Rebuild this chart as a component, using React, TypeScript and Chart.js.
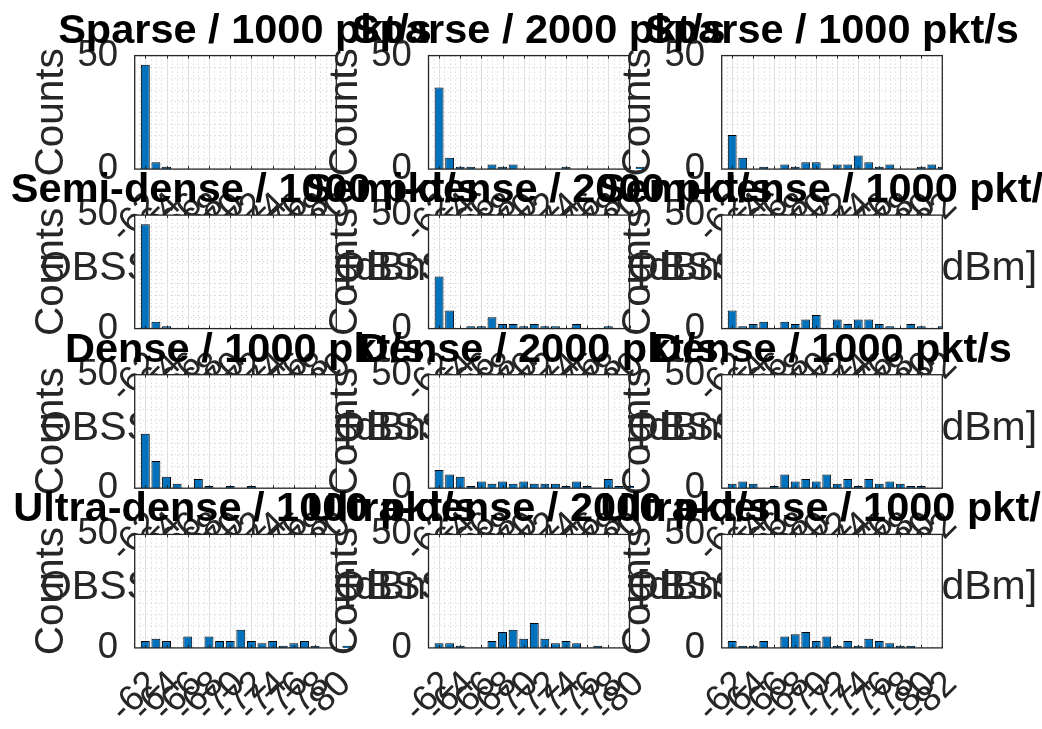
import React, { useEffect, useRef } from 'react';
import { Chart, registerables } from 'chart.js';

Chart.register(...registerables);

// ---------- data ----------
const BINS = [-62, -63, -64, -65, -66, -67, -68, -69, -70, -71, -72, -73, -74, -75, -76, -77, -78, -79, -80, -81, -82];
const X_TICKS_NARROW = [-62, -64, -66, -68, -70, -72, -74, -76, -78, -80];
const X_TICKS_WIDE = [-62, -64, -66, -68, -70, -72, -74, -76, -78, -80, -82];
const Y_TICKS = [0, 50];

const SPARSE_1000_A = [46, 3, 1, 0, 0, 0, 0, 0, 0, 0, 0, 0, 0, 0, 0, 0, 0, 0, 0, 0, 0];
const SPARSE_2000 = [36, 5, 1, 1, 0, 2, 1, 2, 0, 0, 0, 0, 1, 0, 0, 0, 0, 0, 0, 1, 0];
const SPARSE_1000_B = [15, 5, 0, 1, 0, 2, 1, 3, 3, 0, 2, 2, 6, 3, 1, 2, 0, 0, 1, 2, 1];
const SEMI_1000_A = [46, 3, 1, 0, 0, 0, 0, 0, 0, 0, 0, 0, 0, 0, 0, 0, 0, 0, 0, 0, 0];
const SEMI_2000 = [23, 8, 0, 1, 1, 5, 2, 2, 1, 2, 1, 1, 0, 2, 0, 0, 1, 0, 0, 0, 0];
const SEMI_1000_B = [8, 1, 2, 3, 0, 3, 2, 4, 6, 0, 4, 2, 4, 4, 2, 1, 0, 2, 1, 0, 1];
const DENSE_1000_A = [24, 12, 5, 2, 0, 4, 1, 0, 1, 0, 1, 0, 0, 0, 0, 0, 0, 0, 0, 0, 0];
const DENSE_2000 = [8, 6, 5, 1, 3, 2, 3, 2, 3, 2, 2, 2, 1, 3, 1, 0, 4, 1, 1, 0, 0];
const DENSE_1000_B = [2, 3, 2, 0, 1, 6, 3, 4, 3, 6, 2, 4, 1, 4, 2, 3, 2, 1, 1, 0, 0];
const ULTRA_1000_A = [3, 4, 3, 0, 5, 0, 5, 3, 3, 8, 3, 2, 3, 1, 2, 3, 1, 0, 0, 1, 0];
const ULTRA_2000 = [2, 2, 1, 0, 0, 3, 7, 8, 4, 11, 4, 2, 3, 2, 0, 1, 0, 0, 0, 0, 0];
const ULTRA_1000_B = [3, 1, 1, 3, 0, 5, 6, 7, 3, 5, 1, 3, 1, 4, 3, 2, 1, 1, 0, 0, 0];

const PANEL_COUNTS = [
  SPARSE_1000_A, SPARSE_2000, SPARSE_1000_B,
  SEMI_1000_A, SEMI_2000, SEMI_1000_B,
  DENSE_1000_A, DENSE_2000, DENSE_1000_B,
  ULTRA_1000_A, ULTRA_2000, ULTRA_1000_B,
];

const TITLES = [
  'Sparse / 1000 pkt/s', 'Sparse / 2000 pkt/s', 'Sparse / 1000 pkt/s',
  'Semi-dense / 1000 pkt/s', 'Semi-dense / 2000 pkt/s', 'Semi-dense / 1000 pkt/s',
  'Dense / 1000 pkt/s', 'Dense / 2000 pkt/s', 'Dense / 1000 pkt/s',
  'Ultra-dense / 1000 pkt/s', 'Ultra-dense / 2000 pkt/s', 'Ultra-dense / 1000 pkt/s',
];
const X_LABEL = 'OBSS/PD value [dBm]';
const Y_LABEL = 'Counts';

// ---------- layout ----------
const FIG_W = 1042;
const FIG_H = 729;
const CANVAS_H = 800;
const COL_LEFT = [134.7, 428.5, 721.7];
const COL_RIGHT = [336.3, 629.5, 942.3];
const ROW_TOP = [55.6, 215.1, 374.7, 534.4];
const AXES_H = 113.5;
const AXES_FULL_W = 220.6;
const X_MIN = [-80, -80, -82];
const X_MAX = -61;
const Y_BOX = 106.7;
const X_BOX = 110;

const FONT = '"Liberation Sans", Arial, Helvetica, sans-serif';
const AXIS_COLOR = '#262626';
const BAR_COLOR = 'rgb(0,114,189)';

const panelPlugin = {
  id: 'matlabPanel',
  beforeDraw(chart: any) {
    const { ctx, chartArea: a } = chart;
    ctx.save();
    ctx.fillStyle = '#ffffff';
    ctx.fillRect(a.left, a.top, a.right - a.left, a.bottom - a.top);
    ctx.restore();
  },
  beforeDatasetsDraw(chart: any) {
    const { ctx, chartArea: a, scales } = chart;
    const x = scales.x;
    const y = scales.y;
    const vline = (px: number) => {
      ctx.beginPath();
      ctx.moveTo(px, a.top);
      ctx.lineTo(px, a.bottom);
      ctx.stroke();
    };
    const hline = (py: number) => {
      ctx.beginPath();
      ctx.moveTo(a.left, py);
      ctx.lineTo(a.right, py);
      ctx.stroke();
    };
    ctx.save();
    ctx.lineWidth = 1;
    ctx.strokeStyle = '#cdcdcd';
    ctx.setLineDash([1, 3]);
    const kMax = Math.round(x.max * 2);
    const kMin = Math.round(x.min * 2);
    for (let k = kMax - 1; k > kMin; k--) {
      if (k % 4 === 0) continue;
      vline(Math.round(x.getPixelForValue(k / 2)) + 0.5);
    }
    for (let v = 5; v < 50; v += 5) {
      hline(Math.round(y.getPixelForValue(v)) + 0.5);
    }
    ctx.setLineDash([]);
    ctx.strokeStyle = '#dedede';
    x.ticks.forEach((t: any) => {
      const px = x.getPixelForValue(t.value);
      if (px > a.left + 1 && px < a.right - 1) vline(Math.round(px) + 0.5);
    });
    ctx.restore();
  },
  afterDatasetsDraw(chart: any) {
    const { ctx, chartArea: a, scales } = chart;
    const x = scales.x;
    ctx.save();
    ctx.strokeStyle = AXIS_COLOR;
    ctx.lineWidth = 1.3;
    ctx.strokeRect(a.left, a.top, a.right - a.left, a.bottom - a.top);
    ctx.lineWidth = 1;
    x.ticks.forEach((t: any) => {
      const px = Math.round(x.getPixelForValue(t.value)) + 0.5;
      ctx.beginPath();
      ctx.moveTo(px, a.bottom);
      ctx.lineTo(px, a.bottom - 3);
      ctx.moveTo(px, a.top);
      ctx.lineTo(px, a.top + 3);
      ctx.stroke();
    });
    ctx.restore();
  },
  afterDraw(chart: any, _args: any, opts: any) {
    const { ctx, chartArea: a } = chart;
    const cx = a.left + AXES_FULL_W / 2;
    ctx.save();
    ctx.textAlign = 'center';
    ctx.textBaseline = 'alphabetic';
    ctx.fillStyle = AXIS_COLOR;
    ctx.font = `41px ${FONT}`;
    ctx.fillText(opts.xlabel, cx, a.bottom + 111);
    ctx.fillStyle = '#000000';
    ctx.font = `bold 41.5px ${FONT}`;
    ctx.fillText(opts.title, cx, a.top - 13);
    ctx.restore();
  },
};

function makeConfig(i: number): any {
  const row = Math.floor(i / 3);
  const col = i % 3;
  const left = COL_LEFT[col];
  const right = COL_RIGHT[col];
  const top = ROW_TOP[row];
  const bottom = top + AXES_H;
  const xTicks = col === 2 ? X_TICKS_WIDE : X_TICKS_NARROW;
  const counts = PANEL_COUNTS[i];
  return {
    type: 'bar',
    data: {
      datasets: [
        {
          data: BINS.map((b, k) => ({ x: b, y: counts[k] })),
          backgroundColor: BAR_COLOR,
          borderColor: '#000000',
          borderWidth: 1,
          barPercentage: 0.84,
          categoryPercentage: 1,
          clip: col === 2 ? undefined : false,
        },
      ],
    },
    options: {
      animation: false,
      responsive: false,
      devicePixelRatio: 1,
      layout: {
        padding: {
          left: left - Y_BOX,
          top: top,
          right: FIG_W - right,
          bottom: CANVAS_H - bottom - X_BOX,
        },
      },
      plugins: {
        legend: { display: false },
        title: { display: false },
        tooltip: { enabled: false },
        matlabPanel: { title: TITLES[i], xlabel: X_LABEL },
      },
      scales: {
        x: {
          type: 'linear',
          reverse: true,
          min: X_MIN[col],
          max: X_MAX,
          offset: false,
          grid: { display: false, drawTicks: false },
          border: { display: false },
          afterBuildTicks: (s: any) => {
            s.ticks = xTicks.map((v) => ({ value: v }));
          },
          afterFit: (s: any) => {
            s.height = X_BOX;
            s.paddingLeft = 0;
            s.paddingRight = 0;
            s.paddingTop = 0;
            s.paddingBottom = 0;
          },
          ticks: {
            autoSkip: false,
            minRotation: 45,
            maxRotation: 45,
            padding: 15,
            labelOffset: 9,
            color: AXIS_COLOR,
            font: { family: FONT, size: 36.5 },
            callback: (v: any) => String(v),
          },
        },
        y: {
          type: 'linear',
          min: 0,
          max: 50,
          grid: { display: false, drawTicks: false },
          border: { display: false },
          afterBuildTicks: (s: any) => {
            s.ticks = Y_TICKS.map((v) => ({ value: v }));
          },
          afterFit: (s: any) => {
            s.width = Y_BOX;
            s.paddingLeft = 0;
            s.paddingRight = 0;
            s.paddingTop = 0;
            s.paddingBottom = 0;
          },
          ticks: {
            autoSkip: false,
            padding: 16.7,
            color: AXIS_COLOR,
            font: { family: FONT, size: 36.5 },
            callback: (v: any) => String(v),
          },
          title: {
            display: true,
            text: Y_LABEL,
            color: AXIS_COLOR,
            padding: 0,
            font: { family: FONT, size: 40.5 },
          },
        },
      },
    },
    plugins: [panelPlugin],
  };
}

export default function App() {
  const refs = useRef<(HTMLCanvasElement | null)[]>([]);
  useEffect(() => {
    document.body.style.margin = '0';
    const charts = PANEL_COUNTS.map((_, i) => new Chart(refs.current[i] as HTMLCanvasElement, makeConfig(i)));
    return () => {
      charts.forEach((c) => c.destroy());
    };
  }, []);
  return (
    <div style={{ position: 'relative', width: FIG_W, height: FIG_H, overflow: 'hidden', background: '#ffffff' }}>
      {PANEL_COUNTS.map((_, i) => (
        <canvas
          key={i}
          ref={(el) => {
            refs.current[i] = el;
          }}
          width={FIG_W}
          height={CANVAS_H}
          style={{ position: 'absolute', left: 0, top: 0 }}
        />
      ))}
    </div>
  );
}
